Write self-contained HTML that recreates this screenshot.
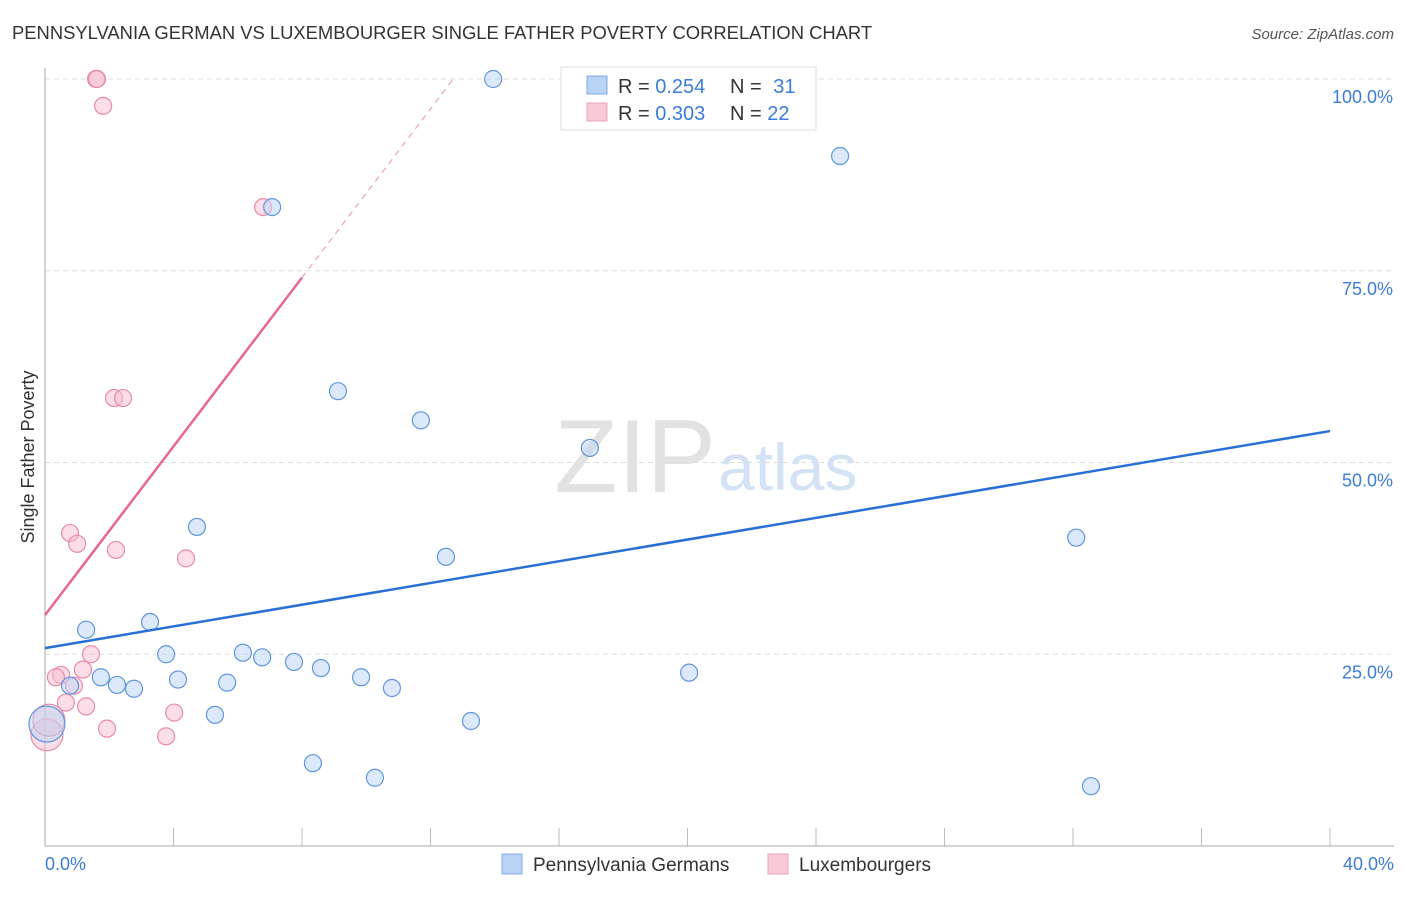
<!DOCTYPE html>
<html><head><meta charset="utf-8"><style>
body{margin:0;background:#fff;font-family:"Liberation Sans",sans-serif;}
svg text{font-family:"Liberation Sans",sans-serif;}
</style></head><body>
<svg id="c" width="1406" height="892" xmlns="http://www.w3.org/2000/svg">
<text x="12" y="39" font-size="18.4" fill="#333">PENNSYLVANIA GERMAN VS LUXEMBOURGER SINGLE FATHER POVERTY CORRELATION CHART</text>
<text x="1394" y="39" font-size="15" fill="#555" text-anchor="end" font-style="italic">Source: ZipAtlas.com</text>
<g id="grid"></g>
<text x="716" y="492" font-size="104" fill="#e2e2e2" text-anchor="end" font-family="Liberation Serif">ZIP</text>
<text x="718" y="490" font-size="66" fill="#d3e2f5">atlas</text>
<line x1="45" y1="68" x2="45" y2="846" stroke="#aaa"/>
<line x1="45" y1="846" x2="1394" y2="846" stroke="#aaa"/>
<text transform="translate(34,457) rotate(-90)" font-size="18" fill="#333" text-anchor="middle">Single Father Poverty</text>
<text x="45" y="870" font-size="18" fill="#3b7dd8">0.0%</text>
<text x="1394" y="870" font-size="18" fill="#3b7dd8" text-anchor="end">40.0%</text>
<g id="marks"></g>
<g>
<rect x="561" y="67" width="255" height="63" fill="#fff" stroke="#ddd"/>
<rect x="587" y="76" width="20" height="18" fill="#b9d3f5" stroke="#7eaae6"/>
<rect x="587" y="103" width="20" height="18" fill="#f9c9d8" stroke="#eea3bb"/>
<text x="618" y="93" font-size="20" fill="#333">R = <tspan fill="#3b7dd8">0.254</tspan></text>
<text x="730" y="93" font-size="20" fill="#333">N = <tspan fill="#3b7dd8" dx="6">31</tspan></text>
<text x="618" y="120" font-size="20" fill="#333">R = <tspan fill="#3b7dd8">0.303</tspan></text>
<text x="730" y="120" font-size="20" fill="#333">N = <tspan fill="#3b7dd8">22</tspan></text>
</g>
<g>
<rect x="502" y="854" width="20" height="20" fill="#b9d3f5" stroke="#7eaae6"/>
<text x="533" y="871" font-size="19" fill="#333">Pennsylvania Germans</text>
<rect x="768" y="854" width="20" height="20" fill="#f9c9d8" stroke="#eea3bb"/>
<text x="799" y="871" font-size="19" fill="#333">Luxembourgers</text>
</g>
</svg>
<script>
const yTicks=[25,50,75,100];
const yTickLabels=["25.0%","50.0%","75.0%","100.0%"];
const blueX=[13.95,24.75,7.07,9.12,11.70,16.96,4.73,12.48,32.10,3.27,1.28,3.77,6.16,6.76,7.75,8.59,1.74,2.24,2.77,4.14,5.67,9.84,10.80,0.78,20.05,5.29,13.26,8.34,10.27,32.56,0.06];
const blueY=[100,89.96,83.3,59.3,55.5,51.9,41.6,37.7,40.2,29.2,28.2,25.0,25.2,24.6,24.0,23.2,22.0,21.0,20.5,21.7,21.3,22.0,20.6,20.9,22.6,17.1,16.3,10.8,8.9,7.8,15.9];
const pinkX=[1.59,1.62,1.81,6.79,2.15,2.43,0.78,1.00,2.21,4.39,1.43,1.18,0.50,0.34,0.90,0.65,1.28,4.02,1.93,3.77,0.06,0.12];
const pinkY=[100,100,96.5,83.3,58.4,58.4,40.8,39.4,38.6,37.5,25.0,23.0,22.3,22.0,20.9,18.7,18.2,17.4,15.3,14.3,14.5,16.4];
const blueLine=[25.8,54.1];
const pinkLine=[30.1,74.1];
const NS="http://www.w3.org/2000/svg";
const sx=v=>45+v/40*1285, sy=v=>846-v/100*767;
const grid=document.getElementById('grid'), marks=document.getElementById('marks');
function mk(tag,attrs,parent){const e=document.createElementNS(NS,tag);for(const k in attrs)e.setAttribute(k,attrs[k]);parent.appendChild(e);return e;}
yTicks.forEach((t,i)=>{
 const l=mk('line',{x1:45,x2:1394,y1:sy(t),y2:sy(t),stroke:'#ddd','stroke-dasharray':'5,4'},grid);
 
 
 const tx=mk('text',{x:1393,y:sy(t)+24,'font-size':18,fill:'#3b7dd8','text-anchor':'end'},grid);
 tx.textContent=yTickLabels[i];
 
 
});
for(let i=1;i<=10;i++){const l=mk('line',{x1:sx(i*4),x2:sx(i*4),y1:828,y2:846,stroke:'#bbb'},grid);
 
 }
function dots(xs,ys,fill,stroke,name){xs.forEach((x,i)=>{const big=(x<0.2);
 const c=mk('circle',{cx:sx(x),cy:sy(ys[i]),r:big?(name==='blue-point'?18:16):8.5,fill:fill,'fill-opacity':0.5,stroke:stroke,'stroke-width':1.2},marks);
 
 });}
dots(pinkX,pinkY,'#f7bed0','#e98aa8','pink-point');
dots(blueX,blueY,'#b9d3f5','#5f96e0','blue-point');
let l=mk('line',{x1:sx(0),y1:sy(blueLine[0]),x2:sx(40),y2:sy(blueLine[1]),stroke:'#2a6fd6','stroke-width':2.5},marks);


l=mk('line',{x1:sx(0),y1:sy(pinkLine[0]),x2:sx(8),y2:sy(pinkLine[1]),stroke:'#e8678f','stroke-width':2.5},marks);


const slope=(pinkLine[1]-pinkLine[0])/8, xe=(100-pinkLine[0])/slope;
l=mk('line',{x1:sx(8),y1:sy(pinkLine[1]),x2:sx(xe),y2:sy(100),stroke:'#eea3bb','stroke-width':1.2,'stroke-dasharray':'6,5'},marks);


</script>
</body></html>
